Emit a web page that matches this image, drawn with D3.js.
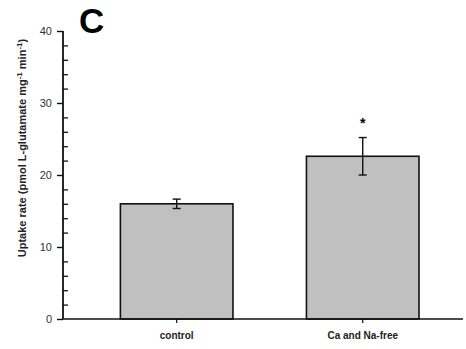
<!DOCTYPE html>
<html>
<head>
<meta charset="utf-8">
<script src="https://cdn.jsdelivr.net/npm/d3@7"></script>
<style>
  body { margin: 0; background: #fff; }
  svg { display: block; font-family: "Liberation Sans", Arial, sans-serif; }
</style>
</head>
<body>
<div id="chart"></div>
<script>
const categories = ["control", "Ca and Na-free"];
const means = [16.0, 22.6];
const errors = [0.65, 2.6];
const marks = ["", "*"];
const majorTicks = [0, 10, 20, 30, 40];
const minorTicks = [2, 4, 6, 8, 12, 14, 16, 18, 22, 24, 26, 28, 32, 34, 36, 38];

const width = 466, height = 349;
const margin = { top: 31, right: 3, bottom: 30, left: 63 };

const svg = d3.select("#chart").append("svg")
  .attr("width", width)
  .attr("height", height);

const yScale = d3.scaleLinear()
  .domain([0, 40])
  .range([height - margin.bottom, margin.top]);

// bars sit at index 0 and 1
const xScale = d3.scaleLinear()
  .domain([-0.611, 1.539])
  .range([margin.left, width - margin.right]);
const barW = 0.605;

// bars
svg.selectAll("rect.bar")
  .data(means)
  .enter().append("rect")
  .attr("class", "bar")
  .attr("x", (d, i) => xScale(i - barW / 2))
  .attr("width", (d, i) => xScale(i + barW / 2) - xScale(i - barW / 2))
  .attr("y", d => yScale(d))
  .attr("height", d => yScale(0) - yScale(d))
  .attr("fill", "#c0c0c0")
  .attr("stroke", "#111")
  .attr("stroke-width", 1.6);

// error bars
const eb = svg.selectAll("g.err")
  .data(means)
  .enter().append("g")
  .attr("stroke", "#111")
  .attr("stroke-width", 1.4);
eb.append("line")
  .attr("x1", (d, i) => xScale(i)).attr("x2", (d, i) => xScale(i))
  .attr("y1", (d, i) => yScale(d - errors[i]))
  .attr("y2", (d, i) => yScale(d + errors[i]));
eb.append("line")
  .attr("x1", (d, i) => xScale(i) - 4).attr("x2", (d, i) => xScale(i) + 4)
  .attr("y1", (d, i) => yScale(d + errors[i]))
  .attr("y2", (d, i) => yScale(d + errors[i]));
eb.append("line")
  .attr("x1", (d, i) => xScale(i) - 4).attr("x2", (d, i) => xScale(i) + 4)
  .attr("y1", (d, i) => yScale(d - errors[i]))
  .attr("y2", (d, i) => yScale(d - errors[i]));

// significance star
svg.selectAll("text.star")
  .data(means)
  .enter().append("text")
  .attr("class", "star")
  .attr("x", (d, i) => xScale(i))
  .attr("y", (d, i) => yScale(d + errors[i]) - 10)
  .attr("text-anchor", "middle")
  .attr("font-size", 14)
  .attr("font-weight", "bold")
  .text((d, i) => marks[i]);

// y axis: major ticks out, minor ticks in
const yAxis = svg.append("g")
  .attr("transform", "translate(" + margin.left + ",0)")
  .call(d3.axisLeft(yScale).tickValues(majorTicks).tickSize(6).tickPadding(5));
yAxis.select(".domain").attr("stroke", "#111").attr("stroke-width", 1.8)
  .attr("d", "M0," + yScale(40) + "V" + yScale(0));
yAxis.selectAll(".tick line").attr("stroke", "#111").attr("stroke-width", 1.4);
yAxis.selectAll(".tick text").attr("font-size", 11).attr("fill", "#333")
  .attr("font-family", "Liberation Sans, Arial, sans-serif");

svg.append("g")
  .attr("transform", "translate(" + margin.left + ",0)")
  .call(d3.axisRight(yScale).tickValues(minorTicks).tickSize(5).tickFormat(""))
  .call(g => g.select(".domain").remove())
  .selectAll(".tick line").attr("stroke", "#111").attr("stroke-width", 1.3);

// x axis
svg.append("line")
  .attr("x1", margin.left).attr("x2", width - margin.right)
  .attr("y1", yScale(0)).attr("y2", yScale(0))
  .attr("stroke", "#111").attr("stroke-width", 1.6);

svg.selectAll("line.xtick")
  .data(categories)
  .enter().append("line")
  .attr("x1", (d, i) => xScale(i)).attr("x2", (d, i) => xScale(i))
  .attr("y1", yScale(0)).attr("y2", yScale(0) + 4)
  .attr("stroke", "#111").attr("stroke-width", 1.2);

svg.selectAll("text.xlab")
  .data(categories)
  .enter().append("text")
  .attr("x", (d, i) => xScale(i))
  .attr("y", yScale(0) + 20)
  .attr("text-anchor", "middle")
  .attr("font-size", 10)
  .attr("font-weight", "bold")
  .attr("fill", "#222")
  .text(d => d);

// y label
const yl = svg.append("text")
  .attr("transform", "translate(26," + 148 + ") rotate(-90)")
  .attr("text-anchor", "middle")
  .attr("font-size", 11)
  .attr("font-weight", "bold")
  .attr("fill", "#222");
yl.append("tspan").text("Uptake rate (pmol L-glutamate mg");
yl.append("tspan").attr("dy", -4).attr("font-size", 8).text("-1");
yl.append("tspan").attr("dy", 4).text(" min");
yl.append("tspan").attr("dy", -4).attr("font-size", 8).text("-1");
yl.append("tspan").attr("dy", 4).text(")");

// panel letter
svg.append("text")
  .attr("x", 79).attr("y", 33)
  .attr("font-size", 35)
  .attr("font-weight", "bold")
  .text("C");
</script>
</body>
</html>
